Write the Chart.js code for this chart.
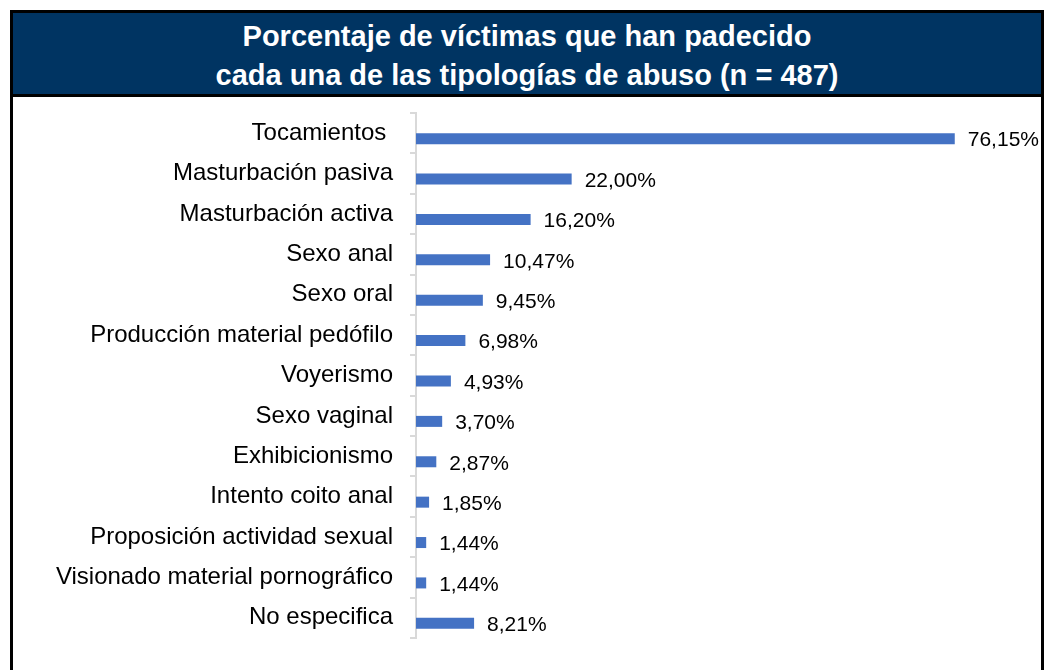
<!DOCTYPE html>
<html>
<head>
<meta charset="utf-8">
<script src="https://cdn.jsdelivr.net/npm/chart.js"></script>
<style>
  body { margin: 0; background: #fff; font-family: "Liberation Sans", Arial, sans-serif; }
  #frame { position: absolute; left: 10px; top: 10px; width: 1028px; height: 700px; border: 3px solid #000; }
  #title { height: 77px; padding-top: 4px; background: #003462; border-bottom: 3px solid #000;
           color: #fff; font-weight: bold; font-size: 29px; line-height: 39px; text-align: center; }
  #chart { position: absolute; left: 0; top: 0; }
</style>
</head>
<body>
<div id="frame">
  <div id="title">
    Porcentaje de víctimas que han padecido<br>
    cada una de las tipologías de abuso (n = 487)
  </div>
</div>
<canvas id="chart" width="1049" height="670"></canvas>
<script>
var categories = [
  "Tocamientos ",
  "Masturbación pasiva",
  "Masturbación activa",
  "Sexo anal",
  "Sexo oral",
  "Producción material pedófilo",
  "Voyerismo",
  "Sexo vaginal",
  "Exhibicionismo",
  "Intento coito anal",
  "Proposición actividad sexual",
  "Visionado material pornográfico",
  "No especifica"
];
var percentages = [76.15, 22.00, 16.20, 10.47, 9.45, 6.98, 4.93, 3.70, 2.87, 1.85, 1.44, 1.44, 8.21];
// empty companion series (as in the original workbook), which pushes the bars below the label line
var emptySeries = categories.map(function(){ return null; });

function fmt(v){
  return v.toFixed(2).replace(".", ",") + "%";
}

var barLabels = {
  id: "barLabels",
  afterDatasetsDraw: function(chart){
    var ctx = chart.ctx;
    var meta = chart.getDatasetMeta(1);
    ctx.save();
    ctx.font = "21px 'Liberation Sans', Arial, sans-serif";
    ctx.fillStyle = "#000";
    ctx.textAlign = "left";
    ctx.textBaseline = "middle";
    meta.data.forEach(function(bar, i){
      ctx.fillText(fmt(percentages[i]), bar.x + 13, bar.y + 2);
    });
    ctx.restore();
  }
};

var ctx = document.getElementById("chart");
new Chart(ctx, {
  type: "bar",
  data: {
    labels: categories,
    datasets: [
      { label: "", data: emptySeries, backgroundColor: "#4472C4" },
      { label: "Porcentaje", data: percentages, backgroundColor: "#4472C4" }
    ]
  },
  options: {
    indexAxis: "y",
    responsive: false,
    animation: false,
    layout: { padding: { left: 20, right: 67, top: 113, bottom: 32 } },
    datasets: { bar: { categoryPercentage: 0.545, barPercentage: 1.0 } },
    plugins: { legend: { display: false }, tooltip: { enabled: false } },
    scales: {
      x: { display: false, min: 0, max: 80 },
      y: {
        afterFit: function(scale){ scale.width = 396; },
        grid: { drawOnChartArea: false, drawTicks: true, tickLength: 6, color: "#d9d9d9", lineWidth: 2 },
        border: { color: "#d9d9d9", width: 2 },
        ticks: { color: "#000", padding: 17, font: { family: "'Liberation Sans', Arial, sans-serif", size: 24 } }
      }
    }
  },
  plugins: [barLabels]
});
</script>
</body>
</html>
